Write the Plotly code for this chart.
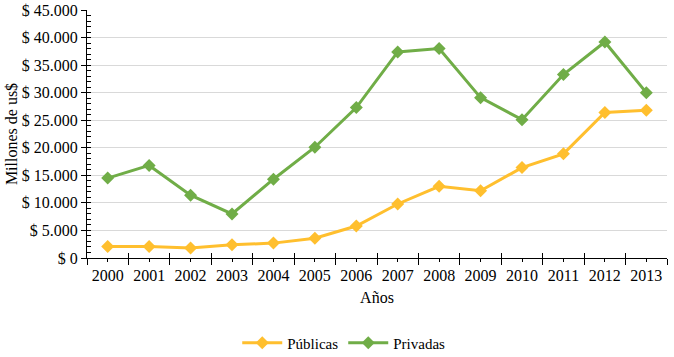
import plotly.graph_objects as go

years = ["2000","2001","2002","2003","2004","2005","2006","2007","2008","2009","2010","2011","2012","2013"]
publicas = [2100, 2100, 1800, 2400, 2700, 3600, 5800, 9800, 13000, 12200, 16400, 18900, 26400, 26800]
privadas = [14500, 16800, 11400, 8000, 14300, 20100, 27300, 37400, 38000, 29100, 25100, 33300, 39200, 30000]
y_tickvals = [0, 5000, 10000, 15000, 20000, 25000, 30000, 35000, 40000, 45000]
y_ticktext = ["$ 0", "$ 5.000", "$ 10.000", "$ 15.000", "$ 20.000", "$ 25.000", "$ 30.000", "$ 35.000", "$ 40.000", "$ 45.000"]

font = "Liberation Serif, Times New Roman, serif"
xpos = list(range(len(years)))

fig = go.Figure()
fig.add_trace(go.Scatter(x=xpos, y=publicas, name="Públicas", mode="lines+markers",
                         line=dict(color="#FFBF2E", width=3),
                         marker=dict(symbol="diamond", size=10, color="#FFBF2E")))
fig.add_trace(go.Scatter(x=xpos, y=privadas, name="Privadas", mode="lines+markers",
                         line=dict(color="#70AD47", width=3),
                         marker=dict(symbol="diamond", size=10, color="#70AD47")))

fig.update_layout(
    width=674, height=357,
    margin=dict(l=87, r=7, t=10, b=99),
    plot_bgcolor="white", paper_bgcolor="white",
    font=dict(family=font, size=16, color="black"),
    showlegend=True,
    legend=dict(orientation="h", xref="container", yref="container",
                x=0.51, xanchor="center", y=0.039, yanchor="middle",
                font=dict(size=15), itemwidth=40),
    xaxis=dict(
        range=[-0.5, 13.5], tickvals=xpos, ticktext=years,
        showline=True, linecolor="black", linewidth=1,
        ticks="outside", ticklen=3, tickcolor="black",
        minor=dict(tick0=-0.5, dtick=1, ticks="outside", ticklen=6, tickcolor="black", showgrid=False),
        showgrid=False, zeroline=False, automargin=False,
        title=dict(text="Años", font=dict(size=16), standoff=8),
    ),
    xaxis2=dict(
        overlaying="x", range=[-0.5, 13.5], side="bottom",
        tick0=-0.5, dtick=1, ticks="inside", ticklen=5, tickcolor="black",
        showticklabels=False, showgrid=False, zeroline=False, showline=False,
        automargin=False,
    ),
    yaxis=dict(
        range=[0, 45000], tickvals=y_tickvals, ticktext=y_ticktext,
        showline=True, linecolor="black", linewidth=1,
        ticks="outside", ticklen=5, tickcolor="black",
        showgrid=True, gridcolor="#D9D9D9", gridwidth=1,
        zeroline=False, automargin=False,
        title=dict(text="Millones de us$", font=dict(size=16), standoff=0),
    ),
    yaxis2=dict(
        overlaying="y", range=[0, 45000], side="left",
        tick0=0, dtick=1000, ticks="inside", ticklen=4, tickcolor="black",
        showticklabels=False, showgrid=False, zeroline=False, showline=False,
        automargin=False,
    ),
)
fig.add_trace(go.Scatter(x=[None], y=[None], xaxis="x2", yaxis="y2", showlegend=False, hoverinfo="skip"))

fig.write_html("out.html", config={"displayModeBar": False},
               post_script="document.body.style.margin='0';")
